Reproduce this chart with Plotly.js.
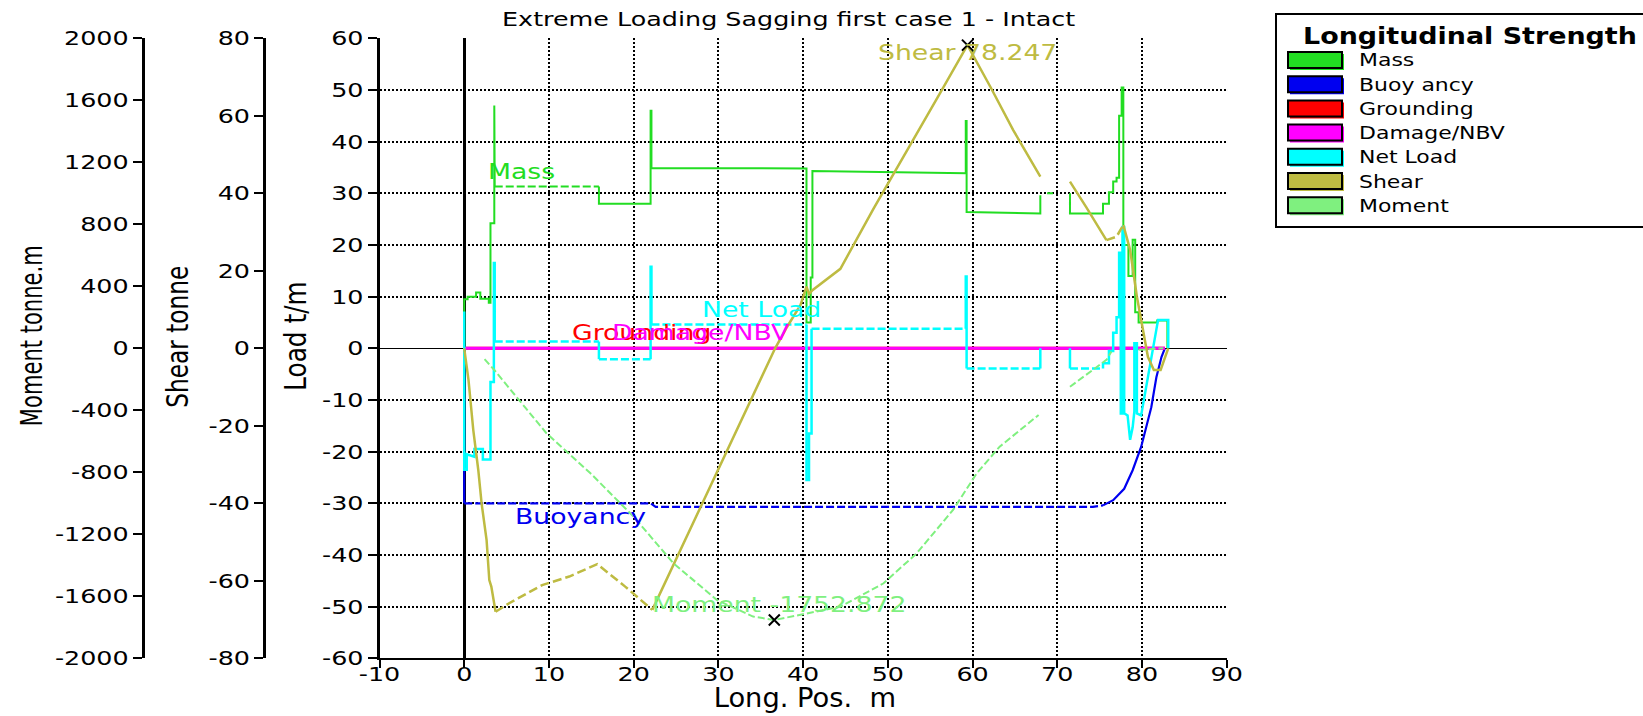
<!DOCTYPE html>
<html><head><meta charset="utf-8">
<script src="https://cdn.plot.ly/plotly-3.0.1.min.js"></script>
<style>html,body{margin:0;padding:0;background:#fff;}#chart{width:1643px;height:716px;}</style>
</head><body><div id="chart"></div>
<script>
// ---------- data ----------
const seriesNames  = ['Mass','Buoyancy','Grounding','Damage/NBV','Net Load','Shear','Moment'];
const legendLabels = ['Mass','Buoy ancy','Grounding','Damage/NBV','Net Load','Shear','Moment'];
const seriesColors = ['#22DD22','#0000F0','#FF0000','#FF00FF','#00FFFF','#BEBB42','#7FF07F'];

const massX = [0,0,0.4,0.4,1.4,1.4,1.9,1.9,2.9,2.9,
  3.1,3.1,3.55,3.55,3.6,3.6,15.9,15.9,22.0,22.0,
  22.1,22.1,40.4,40.4,40.9,40.9,41.1,41.1,59.2,59.2,
  59.3,59.3,68.0,68.0,null,68.8,69.5,null,71.5,71.5,
  75.4,75.4,76.1,76.1,76.6,76.6,77.0,77.0,77.3,77.3,
  77.6,77.6,77.8,77.8,78.4,78.4,78.9,78.9,79.2,79.2,
  79.6,79.6,81.8,81.8,83.0,83.0];
const massY = [0,9.5,9.5,10,10,10.8,10.8,9.6,9.6,8.8,
  8.8,24.2,24.2,47,47,31.3,31.3,28,28,46,
  46,34.9,34.8,5,5,13.7,13.7,34.3,33.9,44,
  44,26.4,26.1,29.6,null,30,30,null,30,26.1,
  26.1,28,28,30.2,30.2,32.3,32.3,33,33,45,
  45,50.5,50.5,20,20,14,14,21,21,7,
  7,5,5,5.4,5.4,0];

const buoyX = [0,0,22.0,22.6,74.2,75.4,76.6,77.9,78.9,79.9,80.5,81.1,81.7,82.3,82.7];
const buoyY = [0,-30,-30,-30.7,-30.7,-30.4,-29.4,-27.2,-23.6,-19.1,-15.3,-11.4,-5.6,-1.7,0];

const groundX = [0,82.7];
const groundY = [0,0];
const damageX = [0,82.7];
const damageY = [0,0];

const netX = [0,0,0.3,0.3,1.2,1.2,2.2,2.2,3.1,3.1,
  3.5,3.5,3.6,3.6,15.9,15.9,22.0,22.0,22.1,22.1,
  40.4,40.4,40.7,40.7,41.0,41.0,59.2,59.2,59.3,59.3,
  68.0,68.0,null,71.5,71.5,75.4,75.4,76.1,76.1,76.6,
  76.6,77.0,77.0,77.3,77.3,77.5,77.5,77.7,77.7,77.9,
  77.9,78.3,78.6,78.9,79.1,79.1,79.4,79.4,79.9,81.9,
  83.1,83.1];
const netY = [7.1,-23.5,-23.5,-20.5,-21,-19.5,-19.5,-21.5,-21.5,-6.5,
  -6.5,16.5,16.5,1.3,1.3,-2.1,-2.1,15.8,15.8,4.6,
  4.6,-25.5,-25.5,-16.5,-16.5,3.8,3.8,13.9,13.9,-3.9,
  -3.9,0,null,0,-3.9,-3.9,-2.9,-2.9,-0.5,-0.5,
  3,3,6,6,18.5,18.5,-12.6,-12.6,23.5,23.5,
  -12.6,-13,-17.7,-15.3,-12.2,1,1,-12.6,-13,5.5,
  5.5,0];

const shearX = [0,0.5,1.07,1.66,2.05,2.64,2.96,3.2,3.7,
  5.3,9.2,12.4,15.7,19.0,22.2,
  25.0,27.7,30.1,32.8,35.2,36.7,38.1,39.7,40.4,40.7,41.1,44.4,48.3,52.2,56.2,59.4,62.1,64.8,68.0,
  null,71.5,73.4,75.8,77.0,77.8,78.6,79.4,80.1,80.7,81.4,82.2,83.1];
const shearY = [0,-8.1,-21.1,-31.4,-40,-49.5,-59.8,-61.5,-68,
  -65.8,-61.1,-58.9,-55.7,-61.5,-67.5,
  -54.5,-41.9,-30.7,-18.2,-7.0,0,5.5,11.2,15.9,14,15,20.5,36,51,66,78.247,67.5,56.3,44.3,
  null,43.0,36.5,27.9,28.8,31.8,25.4,13.3,4.9,-2.2,-5.6,-5.6,0];

const momentX = [2.4,3.6,9.7,14.9,20.0,24.7,29.8,34.1,36.6,38.5,44.4,49.5,53.4,57.7,60.5,63.2,67.8,null,71.5,75.8,76.4,null,79.6,82.5];
const momentY = [-70,-143,-548,-806,-1087,-1387,-1623,-1731,-1752.872,-1731,-1667,-1516,-1323,-1043,-806,-635,-430,null,-248,-75,-20,null,-10,0];

const shearPeakX = 59.4, shearPeakY = 78.247;
const momentMinX = 36.6, momentMinY = -1752.872;

const xTicks = [-10,0,10,20,30,40,50,60,70,80,90];
const loadTicks = [-60,-50,-40,-30,-20,-10,0,10,20,30,40,50,60];
const shearTicks = [-80,-60,-40,-20,0,20,40,60,80];
const momentTicks = [-2000,-1600,-1200,-800,-400,0,400,800,1200,1600,2000];

// ---------- helpers ----------
const W = 1643, H = 716;
const px = X => X / W;
const py = Y => 1 - Y / H;
const lbl = v => String(v); // plain hyphen minus as in the original

function splitStyled(xs, ys, dashRanges) {
  const solid = {x: [], y: []}, dashed = {x: [], y: []};
  for (let i = 0; i < xs.length - 1; i++) {
    const x0 = xs[i], x1 = xs[i + 1], y0 = ys[i], y1 = ys[i + 1];
    if (x0 == null || x1 == null || y0 == null || y1 == null) continue;
    const mid = (x0 + x1) / 2;
    const isDash = x0 !== x1 && dashRanges.some(r => mid >= r[0] && mid <= r[1]);
    const t = isDash ? dashed : solid;
    const n = t.x.length;
    if (n && t.x[n - 1] === x0 && t.y[n - 1] === y0) { t.x.push(x1); t.y.push(y1); }
    else { if (n) { t.x.push(null); t.y.push(null); } t.x.push(x0, x1); t.y.push(y0, y1); }
  }
  return {solid, dashed};
}

function lineTrace(d, color, width, dash, yaxis) {
  return {x: d.x, y: d.y, type: 'scatter', mode: 'lines', yaxis: yaxis || 'y',
    line: {color: color, width: width, dash: dash || 'solid'}, hoverinfo: 'skip', connectgaps: false};
}

const traces = [];
const m = splitStyled(massX, massY, [[3.6, 15.9]]);
traces.push(lineTrace(m.solid, seriesColors[0], 2));
traces.push(lineTrace(m.dashed, seriesColors[0], 2, '8px,3px'));
const b = splitStyled(buoyX, buoyY, [[0.1, 75.0]]);
traces.push(lineTrace(b.solid, seriesColors[1], 2.2));
traces.push(lineTrace(b.dashed, seriesColors[1], 2.2, '8px,3px'));
traces.push(lineTrace({x: groundX, y: groundY}, seriesColors[2], 3));
traces.push(lineTrace({x: damageX, y: damageY}, seriesColors[3], 3));
const n = splitStyled(netX, netY, [[3.6,15.9],[15.9,22.0],[22.1,40.4],[41.0,59.2],[59.3,68.0],[71.5,75.4]]);
traces.push(lineTrace(n.solid, seriesColors[4], 2.5));
traces.push(lineTrace(n.dashed, seriesColors[4], 2.5, '8px,3px'));
const s = splitStyled(shearX, shearY, [[3.7, 22.2], [76.0, 78.0]]);
traces.push(lineTrace(s.solid, seriesColors[5], 2.5, null, 'y2'));
traces.push(lineTrace(s.dashed, seriesColors[5], 2.5, '9px,4px', 'y2'));
const mo = splitStyled(momentX, momentY, [[-100, 200]]);
traces.push(lineTrace(mo.dashed, seriesColors[6], 2, '7px,3px', 'y3'));
traces.push({x: [shearPeakX], y: [shearPeakY], yaxis: 'y2', type: 'scatter', mode: 'markers',
  marker: {symbol: 'x-thin', size: 11, color: '#000', line: {width: 2, color: '#000'}}, hoverinfo: 'skip'});
traces.push({x: [momentMinX], y: [momentMinY], yaxis: 'y3', type: 'scatter', mode: 'markers',
  marker: {symbol: 'x-thin', size: 11, color: '#000', line: {width: 2, color: '#000'}}, hoverinfo: 'skip'});

const tickFont = {family: 'DejaVu Sans', size: 20, color: '#000'};
const titleFont = {family: 'DejaVu Sans', size: 31, color: '#000'};
const labelFont = c => ({family: 'DejaVu Sans', size: 21, color: c});

const plotTop = 38.3, plotBot = 658.3;
const yCommon = {ticks: 'outside', ticklen: 9, tickwidth: 2, tickcolor: '#000', tickfont: tickFont,
  showline: true, linecolor: '#000', linewidth: 3};
const layout = {
  width: W, height: H, margin: {l: 0, r: 0, t: 0, b: 0},
  paper_bgcolor: '#fff', plot_bgcolor: '#fff', showlegend: false, hovermode: false,
  xaxis: {domain: [px(379.5), px(1226.7)], range: [-10, 90], tickvals: xTicks, ticktext: xTicks.map(lbl),
    ticks: 'outside', ticklen: 8, tickwidth: 2, tickcolor: '#000', tickfont: tickFont, ticklabelstandoff: -11,
    showline: true, linecolor: '#000', linewidth: 2,
    showgrid: true, gridcolor: '#000', gridwidth: 2, griddash: '2px,2px',
    zeroline: true, zerolinecolor: '#000', zerolinewidth: 3, anchor: 'y'},
  yaxis: Object.assign({domain: [py(plotBot), py(plotTop)], range: [-60, 60], tickvals: loadTicks, ticktext: loadTicks.map(lbl),
    showgrid: true, gridcolor: '#000', gridwidth: 2, griddash: '2px,2px',
    zeroline: true, zerolinecolor: '#000', zerolinewidth: 1.5, anchor: 'x'}, yCommon),
  yaxis2: Object.assign({overlaying: 'y', anchor: 'free', position: px(264), side: 'left', range: [-80, 80],
    tickvals: shearTicks, ticktext: shearTicks.map(lbl), showgrid: false, zeroline: false}, yCommon),
  yaxis3: Object.assign({overlaying: 'y', anchor: 'free', position: px(142.7), side: 'left', range: [-2000, 2000],
    tickvals: momentTicks, ticktext: momentTicks.map(lbl), showgrid: false, zeroline: false}, yCommon),
  shapes: [], annotations: []
};

// annotations; stretch: horizontal scale applied after drawing to mimic the original's font proportions
const ann = layout.annotations;
const stretch = [];
function addAnn(a, sx, origin) { ann.push(a); stretch.push({i: ann.length - 1, sx: sx, origin: origin}); }

addAnn({text: 'Extreme Loading Sagging first case 1 - Intact', xref: 'paper', yref: 'paper', x: px(788.5), y: py(19),
  xanchor: 'center', yanchor: 'middle', showarrow: false, font: {family: 'DejaVu Sans', size: 20, color: '#000'}}, 1.27, 'center');

addAnn({text: 'Moment tonne.m', textangle: -90, xref: 'paper', yref: 'paper', x: px(30.8), y: py(336), xanchor: 'center', yanchor: 'middle', showarrow: false, font: titleFont}, 0.68, 'center');
addAnn({text: 'Shear tonne', textangle: -90, xref: 'paper', yref: 'paper', x: px(176.7), y: py(336.8), xanchor: 'center', yanchor: 'middle', showarrow: false, font: titleFont}, 0.75, 'center');
addAnn({text: 'Load t/m', textangle: -90, xref: 'paper', yref: 'paper', x: px(295), y: py(336.6), xanchor: 'center', yanchor: 'middle', showarrow: false, font: titleFont}, 0.8, 'center');
addAnn({text: 'Long. Pos.  m', xref: 'paper', yref: 'paper', x: px(805), y: py(698), xanchor: 'center', yanchor: 'middle', showarrow: false,
  font: {family: 'DejaVu Sans', size: 26, color: '#000'}}, 1.05, 'center');

const seriesLabels = [
  {t: 'Mass', x: 2.6, y: 34.2, c: seriesColors[0]},
  {t: 'Buoyancy', x: 5.8, y: -32.7, c: seriesColors[1]},
  {t: 'Grounding', x: 12.5, y: 3.0, c: seriesColors[2]},
  {t: 'Damage/NBV', x: 17.2, y: 3.0, c: seriesColors[3]},
  {t: 'Net Load', x: 27.8, y: 7.4, c: seriesColors[4]},
  {t: 'Shear 78.247', x: 48.6, y: 57.25, c: seriesColors[5]},
  {t: 'Moment -1752.872', x: 21.9, y: -49.7, c: seriesColors[6]}
];
seriesLabels.forEach(l => addAnn({text: l.t, xref: 'x', yref: 'y', x: l.x, y: l.y, xanchor: 'left', yanchor: 'middle',
  showarrow: false, font: labelFont(l.c)}, 1.27, 'left center'));

// legend (drawn manually)
layout.shapes.push({type: 'rect', xref: 'paper', yref: 'paper', x0: px(1276), x1: px(1660), y0: py(227), y1: py(14),
  line: {color: '#000', width: 2}, fillcolor: 'rgba(0,0,0,0)'});
addAnn({text: '<b>Longitudinal Strength</b>', xref: 'paper', yref: 'paper', x: px(1301), y: py(36), xanchor: 'left', yanchor: 'middle',
  showarrow: false, font: {family: 'DejaVu Sans', size: 23, color: '#000'}}, 1.17, 'left center');
seriesNames.forEach((nm, i) => {
  const c = 60 + i * 24.2;
  layout.shapes.push({type: 'rect', xref: 'paper', yref: 'paper', x0: px(1290), x1: px(1344), y0: py(c + 10), y1: py(c - 6),
    line: {width: 0}, fillcolor: seriesColors[i]});
  layout.shapes.push({type: 'rect', xref: 'paper', yref: 'paper', x0: px(1288), x1: px(1342), y0: py(c + 8), y1: py(c - 8),
    line: {color: '#000', width: 2}, fillcolor: seriesColors[i]});
  addAnn({text: legendLabels[i], xref: 'paper', yref: 'paper', x: px(1357), y: py(c), xanchor: 'left', yanchor: 'middle',
    showarrow: false, font: {family: 'DejaVu Sans', size: 18, color: '#000'}}, 1.22, 'left center');
});

const tickStretch = 1.27;
Plotly.newPlot('chart', traces, layout, {staticPlot: true, displayModeBar: false}).then(gd => {
  stretch.forEach(st => {
    const g = gd.querySelector('g.annotation[data-index="' + st.i + '"]');
    const t = g && g.querySelector('text.annotation-text');
    if (!t) return;
    t.style.transformBox = 'fill-box';
    t.style.transformOrigin = st.origin;
    t.style.transform = 'scaleX(' + st.sx + ')';
  });
  gd.querySelectorAll('g.xtick > text, g.ytick > text, g.y2tick > text, g.y3tick > text').forEach(t => {
    const x0 = parseFloat(t.getAttribute('x')) || 0;
    t.setAttribute('x', x0 / tickStretch);
    t.setAttribute('transform', (t.getAttribute('transform') || '') + ' scale(' + tickStretch + ',1)');
  });
});
</script></body></html>
